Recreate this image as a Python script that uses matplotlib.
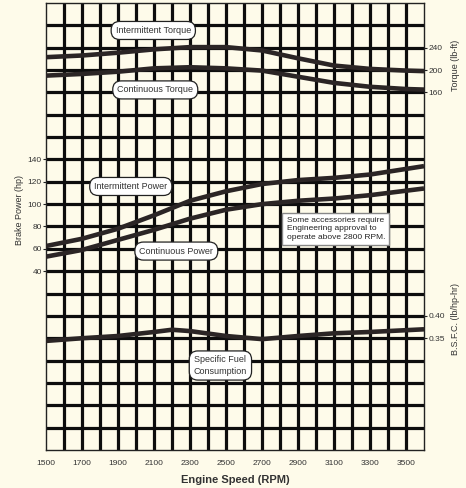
import matplotlib
matplotlib.use("Agg")
import matplotlib.pyplot as plt

# engine performance curves
rpm = [1500, 1700, 1900, 2100, 2300, 2500, 2700, 2900, 3100, 3300, 3500, 3600]
int_torque = [223, 226, 231, 237, 241, 241, 235, 221, 208, 202, 199, 198]
cont_torque = [190, 193, 197, 203, 205, 203, 199, 188, 177, 170, 166, 165]
int_power = [62.5, 69, 78, 90, 103, 111.5, 118, 121.5, 123.5, 126.5, 131.5, 134]
cont_power = [53, 59, 68, 77, 87, 95, 100, 103, 105, 108, 112, 114]

rpm_bsfc = [1500, 1700, 1900, 2100, 2200, 2300, 2500, 2700, 2900, 3100, 3300, 3500, 3600]
bsfc = [0.344, 0.350, 0.355, 0.364, 0.369, 0.366, 0.355, 0.348, 0.355, 0.361, 0.364, 0.368, 0.370]

rpm_ticks = list(range(1500, 3600, 200))
torque_ticks = [160, 200, 240]
power_ticks = [40, 60, 80, 100, 120, 140]
bsfc_ticks = [0.35, 0.40]

bg = "#fefbea"
grid_col = "#0d0d0d"
curve_col = "#2b2525"
text_col = "#333333"
font = ["Liberation Sans", "DejaVu Sans"]
plt.rcParams["font.family"] = font

fig = plt.figure(figsize=(4.66, 4.88), dpi=100, facecolor=bg)
ax = fig.add_axes([0.0987, 0.0779, 0.8112, 0.916])
ax.set_facecolor(bg)
ax.set_xlim(1500, 3600)
ax.set_ylim(0, 20)

# the heavy grid: one row = 40 lb-ft = 20 hp = 0.05 lb/hp-hr
ax.vlines(range(1600, 3600, 100), 0, 20, color=grid_col, lw=2.3, zorder=1)
ax.hlines(range(1, 20), 1500, 3600, color=grid_col, lw=2.3, zorder=1)
for s in ax.spines.values():
    s.set_linewidth(1.0)
    s.set_color("#222222")

ax.set_xticks(rpm_ticks)
ax.tick_params(axis="x", length=0, pad=7, labelsize=6, labelcolor=text_col)
ax.set_yticks([])
ax.set_xlabel("Engine Speed (RPM)", fontsize=8, fontweight="bold",
              color=text_col, labelpad=6)

line_kw = dict(color=curve_col, lw=3.3, solid_capstyle="butt",
               solid_joinstyle="round", zorder=3)

# torque scale (right, top band)
tq = ax.twinx()
tq.set_ylim(-480, 320)
tq.set_yticks(torque_ticks)
tq.plot(rpm, int_torque, **line_kw)
tq.plot(rpm, cont_torque, **line_kw)

# power scale (left, middle band)
pw = ax.twinx()
pw.set_ylim(-120, 280)
pw.yaxis.tick_left()
pw.set_yticks(power_ticks)
pw.plot(rpm, int_power, **line_kw)
pw.plot(rpm, cont_power, **line_kw)

# bsfc scale (right, lower band)
bs = ax.twinx()
bs.set_ylim(0.10, 1.10)
bs.set_yticks(bsfc_ticks)
bs.set_yticklabels(["0.35", "0.40"])
bs.plot(rpm_bsfc, bsfc, **line_kw)

for a in (tq, pw, bs):
    a.tick_params(axis="y", length=2, width=0.8, pad=1, labelsize=6,
                  labelcolor=text_col, color="#222222")
    for s in a.spines.values():
        s.set_visible(False)

ax.text(-0.071, 0.537, "Brake Power (hp)", transform=ax.transAxes, rotation=90,
        ha="center", va="center", fontsize=6.5, color=text_col)
ax.text(1.082, 0.861, "Torque (lb-ft)", transform=ax.transAxes, rotation=90,
        ha="center", va="center", fontsize=6.5, color=text_col)
ax.text(1.082, 0.293, "B.S.F.C. (lb/hp-hr)", transform=ax.transAxes, rotation=90,
        ha="center", va="center", fontsize=6.5, color=text_col)

pill = dict(boxstyle="round,pad=0.5,rounding_size=0.95", fc="white",
            ec="#222222", lw=0.9)
labels = [
    (2096, 18.77, "Intermittent Torque"),
    (2107, 16.11, "Continuous Torque"),
    (1971, 11.79, "Intermittent Power"),
    (2224, 8.90, "Continuous Power"),
    (2469, 3.78, "Specific Fuel\nConsumption"),
]
for x, y, t in labels:
    ax.text(x, y, t, ha="center", va="center", fontsize=6.5, color=text_col,
            bbox=pill, zorder=5, linespacing=1.3)

ax.text(3110, 9.89, "Some accessories require\nEngineering approval to\noperate above 2800 RPM.",
        ha="center", va="center", multialignment="left", fontsize=6, color="#222222",
        linespacing=1.35, zorder=5,
        bbox=dict(boxstyle="square,pad=0.5", fc="white", ec="#888888", lw=1.0))

fig.savefig("out.png", dpi=100, facecolor=bg)
